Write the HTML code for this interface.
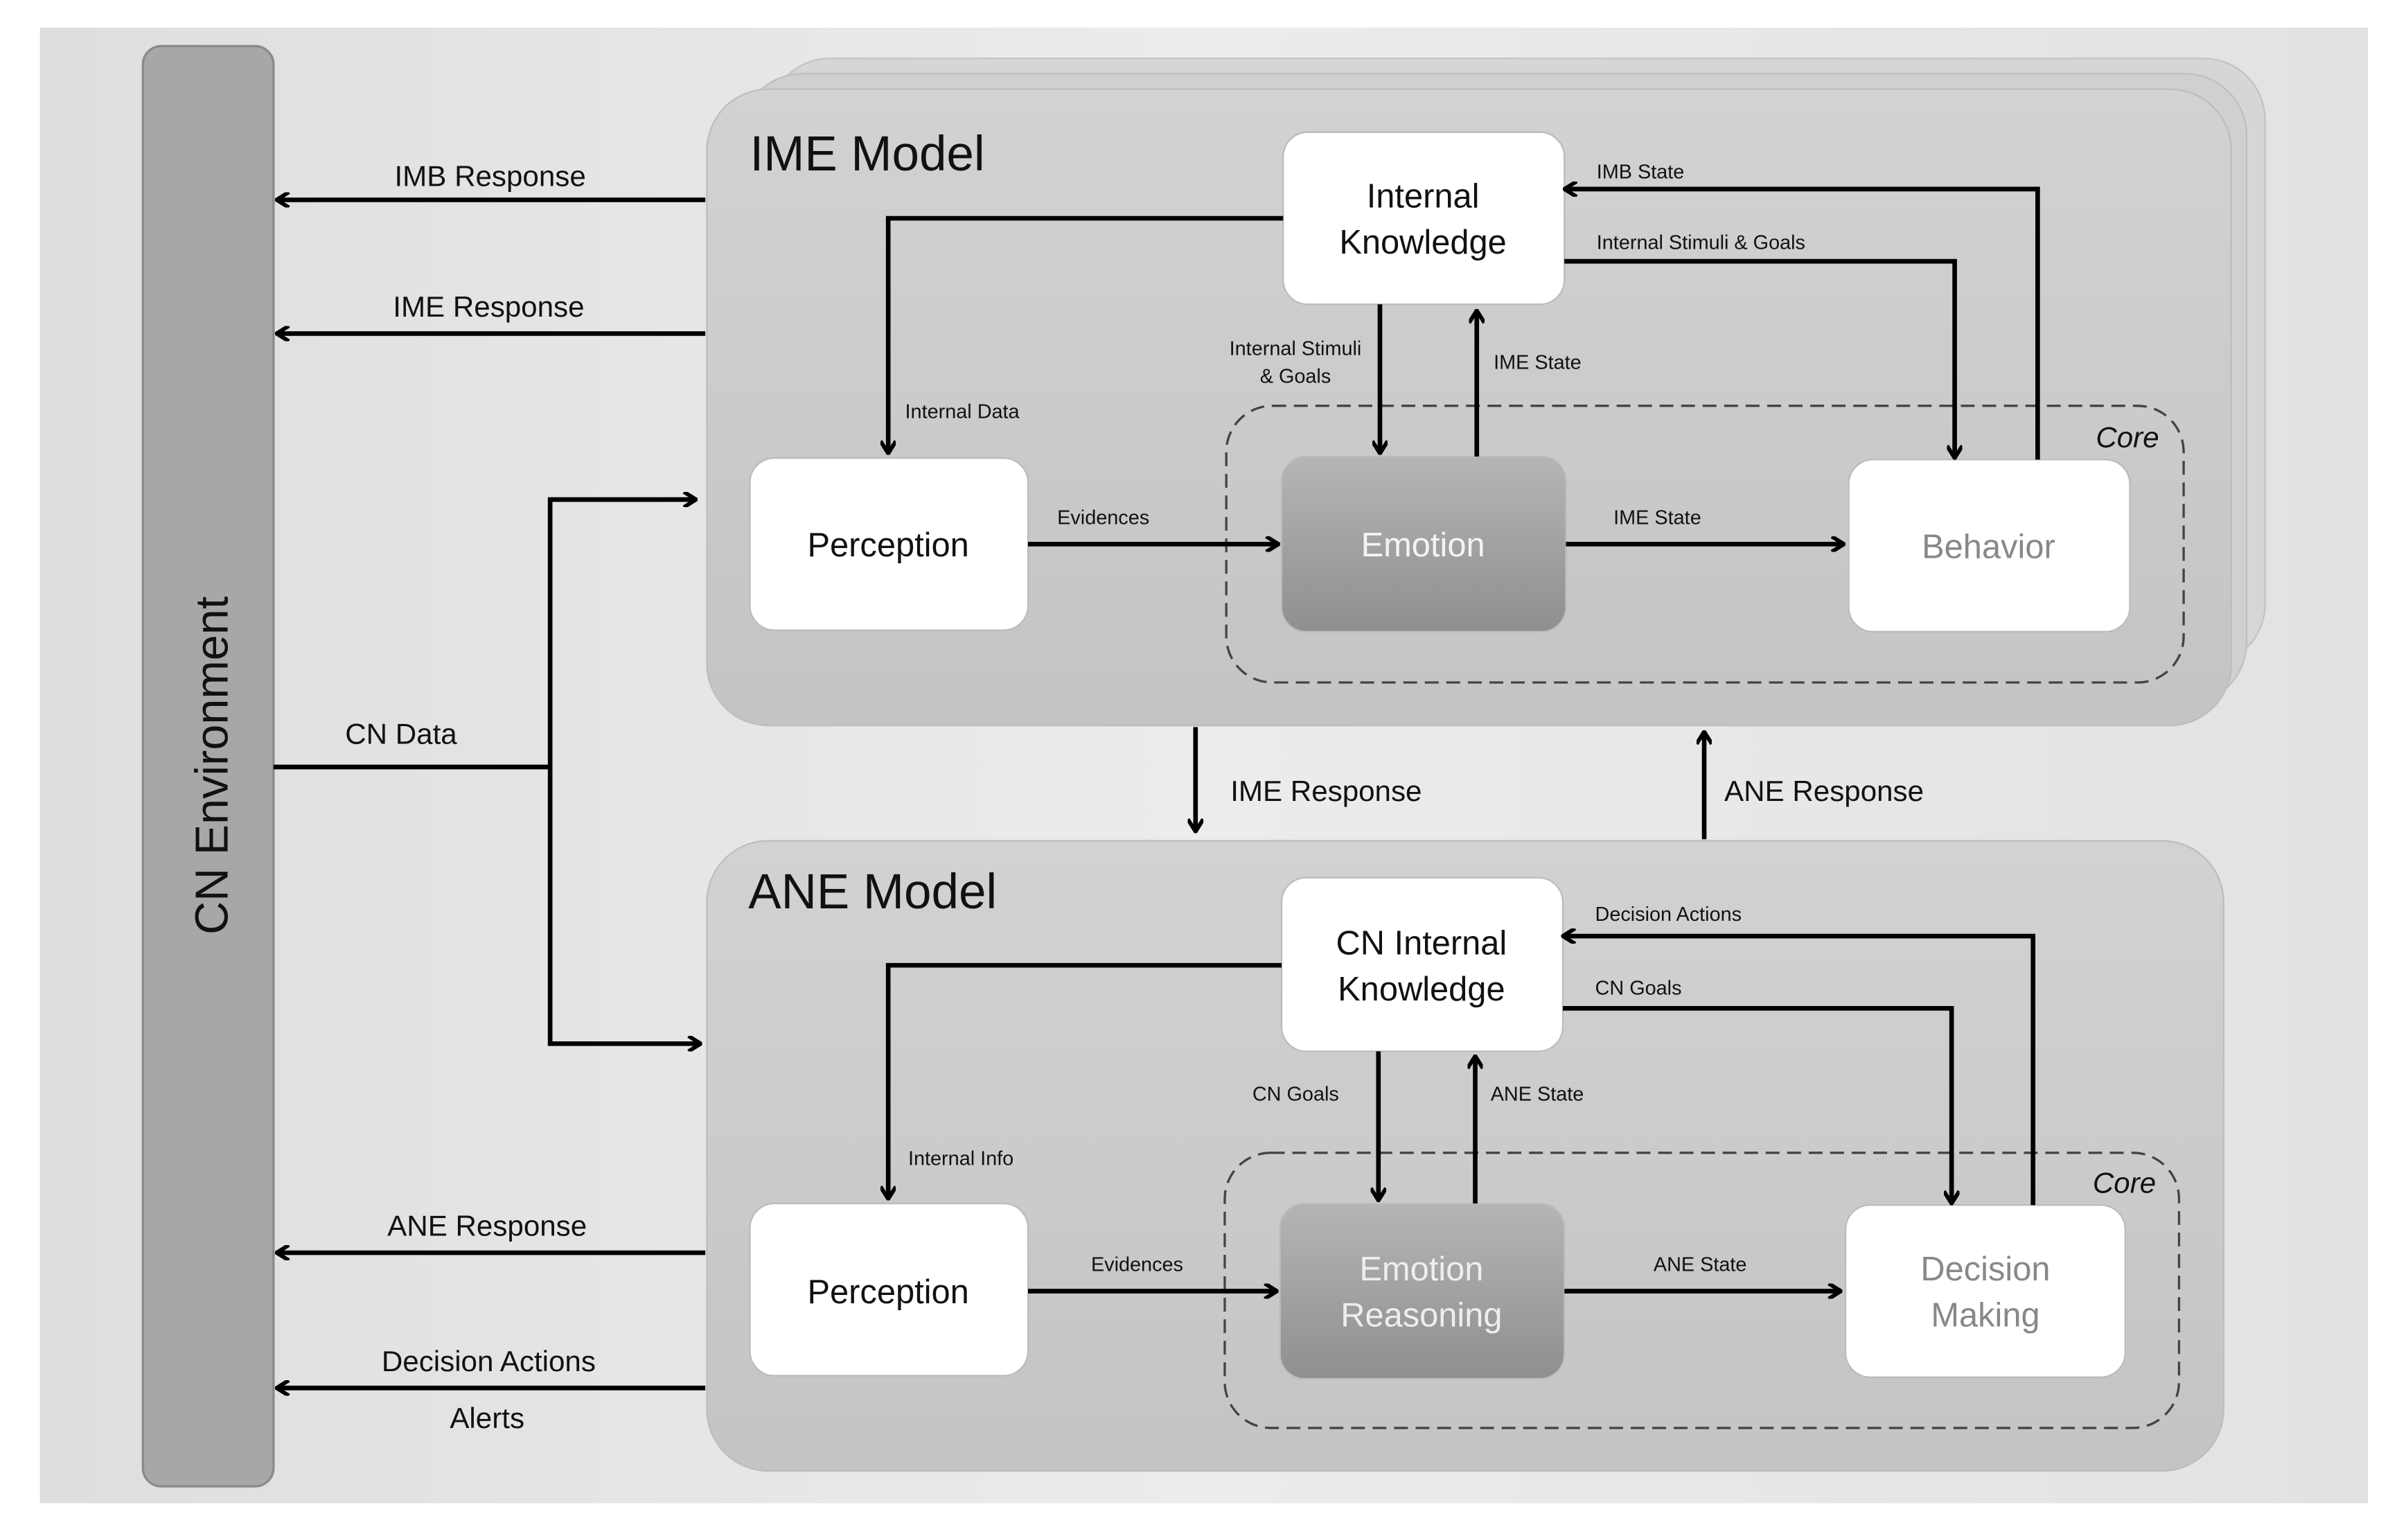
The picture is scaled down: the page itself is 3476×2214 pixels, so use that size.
<!DOCTYPE html>
<html><head><meta charset="utf-8"><style>
html,body{margin:0;padding:0;background:#fff}
svg{display:block}
text{font-family:"Liberation Sans",sans-serif}
</style></head><body>
<svg width="3476" height="2214" viewBox="0 0 1567 998" preserveAspectRatio="none" xmlns="http://www.w3.org/2000/svg">
<defs>
<linearGradient id="bg" x1="0" y1="0" x2="1" y2="0"><stop offset="0" stop-color="#dedede"/><stop offset="0.5" stop-color="#ececec"/><stop offset="1" stop-color="#e2e2e2"/></linearGradient>
<linearGradient id="emo" x1="0" y1="0" x2="0" y2="1"><stop offset="0" stop-color="#b5b5b5"/><stop offset="1" stop-color="#8f8f8f"/></linearGradient>
<linearGradient id="mdl" x1="0" y1="0" x2="0" y2="1"><stop offset="0" stop-color="#d2d2d2"/><stop offset="1" stop-color="#c4c4c4"/></linearGradient>
<marker id="a" markerWidth="10" markerHeight="10" refX="8" refY="5" orient="auto" markerUnits="userSpaceOnUse"><path d="M1,0 L9,5 L1,10" fill="none" stroke="#000" stroke-width="2.6"/></marker>
</defs>
<rect x="26" y="18" width="1515" height="960" fill="url(#bg)"/>
<rect x="93" y="30" width="85" height="937" rx="12" fill="#a7a7a7" stroke="#8a8a8a" stroke-width="1.5"/>
<text transform="translate(148,498) rotate(-90)" text-anchor="middle" font-size="30" fill="#111">CN Environment</text>
<rect x="500" y="38" width="974" height="395" rx="40" fill="#d6d6d6" stroke="#c2c2c2"/>
<rect x="482" y="48" width="980" height="410" rx="40" fill="#d0d0d0" stroke="#bfbfbf"/>
<rect x="460" y="58" width="992" height="414" rx="40" fill="url(#mdl)" stroke="#bdbdbd"/>
<text x="488" y="111" font-size="32" fill="#111">IME Model</text>
<rect x="460" y="547" width="987" height="410" rx="40" fill="url(#mdl)" stroke="#bdbdbd"/>
<text x="487" y="591" font-size="32" fill="#111">ANE Model</text>
<rect x="798" y="264" width="623" height="180" rx="30" fill="none" stroke="#444" stroke-width="1.5" stroke-dasharray="9,5"/>
<text x="1405" y="291" font-size="19" font-style="italic" text-anchor="end" fill="#111">Core</text>
<rect x="797" y="750" width="621" height="179" rx="30" fill="none" stroke="#444" stroke-width="1.5" stroke-dasharray="9,5"/>
<text x="1403" y="776" font-size="19" font-style="italic" text-anchor="end" fill="#111">Core</text>
<g stroke="#bbb" stroke-width="1">
<rect x="835" y="86" width="183" height="112" rx="16" fill="#fff"/>
<rect x="488" y="298" width="181" height="112" rx="16" fill="#fff"/>
<rect x="834" y="297" width="185" height="114" rx="16" fill="url(#emo)"/>
<rect x="1203" y="299" width="183" height="112" rx="16" fill="#fff"/>
<rect x="834" y="571" width="183" height="113" rx="16" fill="#fff"/>
<rect x="488" y="783" width="181" height="112" rx="16" fill="#fff"/>
<rect x="833" y="783" width="185" height="114" rx="16" fill="url(#emo)"/>
<rect x="1201" y="784" width="182" height="112" rx="16" fill="#fff"/>
</g>
<g font-size="22" text-anchor="middle">
<text x="926" y="135" fill="#111">Internal</text><text x="926" y="165" fill="#111">Knowledge</text>
<text x="578" y="362" fill="#111">Perception</text>
<text x="926" y="362" fill="#f4f4f4">Emotion</text>
<text x="1294" y="363" fill="#888">Behavior</text>
<text x="925" y="621" fill="#111">CN Internal</text><text x="925" y="651" fill="#111">Knowledge</text>
<text x="578" y="848" fill="#111">Perception</text>
<text x="925" y="833" fill="#eee">Emotion</text><text x="925" y="863" fill="#eee">Reasoning</text>
<text x="1292" y="833" fill="#888">Decision</text><text x="1292" y="863" fill="#888">Making</text>
</g>
<g fill="none" stroke="#000" stroke-width="3" marker-end="url(#a)">
<path d="M459,130 H181"/>
<path d="M459,217 H181"/>
<path d="M459,815 H181"/>
<path d="M459,903 H181"/>
<path d="M358,499 V325 H452"/>
<path d="M358,499 V679 H455"/>
<path d="M778,473 V540"/>
<path d="M1109,546 V477"/>
<path d="M835,142 H578 V294"/>
<path d="M669,354 H831"/>
<path d="M1019,354 H1199"/>
<path d="M898,198 V294"/>
<path d="M961,297 V203"/>
<path d="M1326,299 V123 H1019"/>
<path d="M1018,170 H1272 V297"/>
<path d="M834,628 H578 V779"/>
<path d="M669,840 H830"/>
<path d="M1018,840 H1197"/>
<path d="M897,684 V780"/>
<path d="M960,783 V688"/>
<path d="M1323,784 V609 H1018"/>
<path d="M1017,656 H1270 V782"/>
</g>
<path d="M178,499 H358" stroke="#000" stroke-width="3"/>
<g font-size="19" fill="#111" text-anchor="middle">
<text x="319" y="121">IMB Response</text>
<text x="318" y="206">IME Response</text>
<text x="261" y="484">CN Data</text>
<text x="317" y="804">ANE Response</text>
<text x="318" y="892">Decision Actions</text>
<text x="317" y="929">Alerts</text>
<text x="863" y="521">IME Response</text>
<text x="1187" y="521">ANE Response</text>
</g>
<g font-size="13" fill="#111">
<text x="1039" y="116">IMB State</text>
<text x="1039" y="162">Internal Stimuli &amp; Goals</text>
<text x="843" y="231" text-anchor="middle">Internal Stimuli</text>
<text x="843" y="249" text-anchor="middle">&amp; Goals</text>
<text x="972" y="240">IME State</text>
<text x="589" y="272">Internal Data</text>
<text x="688" y="341">Evidences</text>
<text x="1050" y="341">IME State</text>
<text x="1038" y="599">Decision Actions</text>
<text x="1038" y="647">CN Goals</text>
<text x="815" y="716">CN Goals</text>
<text x="970" y="716">ANE State</text>
<text x="591" y="758">Internal Info</text>
<text x="710" y="827">Evidences</text>
<text x="1076" y="827">ANE State</text>
</g>
</svg>
</body></html>
